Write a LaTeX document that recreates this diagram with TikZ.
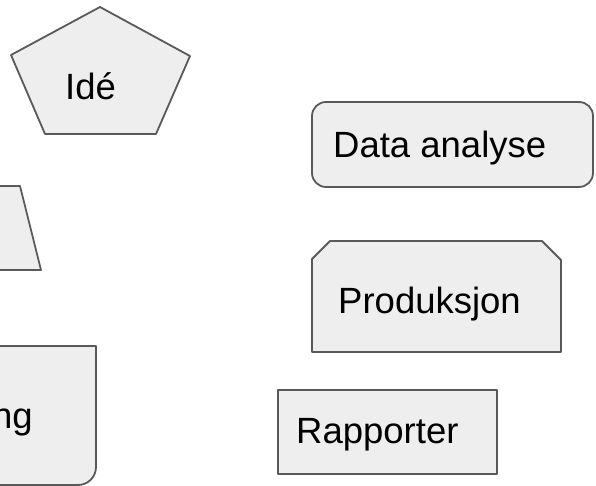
\documentclass[tikz,border=0pt]{standalone}
\usepackage{fontspec}
\setmainfont{Liberation Sans}
\definecolor{shapefill}{HTML}{EEEEEE}
\definecolor{shapeline}{HTML}{595959}
\tikzset{
  shapebox/.style={fill=shapefill, draw=shapeline, line width=1.8pt, line join=round},
  lbl/.style={font=\fontsize{36.5}{40}\selectfont, text=black, inner sep=0pt, anchor=base west}
}
\begin{document}
\begin{tikzpicture}[x=1pt, y=-1pt]
\useasboundingbox (0,0) rectangle (596,486);
\clip (0,0) rectangle (596,486);
% Ide pentagon
\draw[shapebox] (100,7) -- (190,56) -- (156,134) -- (45,134) -- (11,55) -- cycle;
\node[lbl] (ide) at (65,100) {Idé};
% trapezoid (cut at left)
\draw[shapebox] (-40,186) -- (20,186) -- (41,270) -- (-40,270) -- cycle;
% bottom-left box with rounded bottom-right corner
\draw[shapebox] (-40,346) -- (96,346) -- (96,467) .. controls (96,477) and (88,485) .. (78,485) -- (-40,485) -- cycle;
\node[lbl, anchor=base east] (ng) at (33,428) {ng};
% Data analyse
\draw[shapebox, rounded corners=14pt] (312,102) rectangle (593,187);
\node[lbl] (data) at (333,158) {Data analyse};
% Produksjon
\draw[shapebox] (312,259) -- (330,241) -- (542,241) -- (561,260) -- (561,352) -- (312,352) -- cycle;
\node[lbl] (prod) at (338,313) {Produksjon};
% Rapporter
\draw[shapebox] (278,390) rectangle (497,474);
\node[lbl] (rapp) at (296,443) {Rapporter};
\end{tikzpicture}
\end{document}
